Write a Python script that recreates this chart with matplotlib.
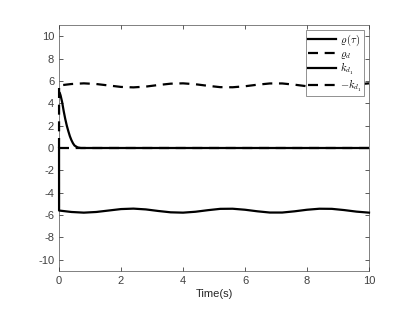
import numpy as np
import matplotlib
matplotlib.use("Agg")
import matplotlib.pyplot as plt

plt.rcParams['font.family'] = ['Liberation Sans', 'DejaVu Sans']
plt.rcParams['mathtext.fontset'] = 'cm'
plt.rcParams['axes.unicode_minus'] = False

# rho(tau): fast decay from ~5 to 0
t_rho = [0, 0.02, 0.05, 0.1, 0.15, 0.2, 0.25, 0.3, 0.35, 0.4, 0.45, 0.5, 0.6, 0.7, 10]
rho = [4.9, 4.95, 4.7, 4.1, 3.3, 2.6, 2.0, 1.5, 1.05, 0.7, 0.42, 0.22, 0.05, 0.0, 0.0]

# rho_d
t_rhod = [0, 10]
rhod = [0, 0]

# k_d1 (starts at 0, jumps to about -5.6 and oscillates)
t_kd = [0, 0.001, 0.4, 0.8, 1.2, 1.6, 2.0, 2.4, 2.8, 3.2, 3.6, 4.0, 4.4, 4.8,
        5.2, 5.6, 6.0, 6.4, 6.8, 7.2, 7.6, 8.0, 8.4, 8.8, 9.2, 9.6, 10.0]
kd = [0, -5.59, -5.72, -5.78, -5.72, -5.59, -5.46, -5.42, -5.49, -5.63, -5.75,
      -5.78, -5.70, -5.56, -5.44, -5.43, -5.52, -5.66, -5.77, -5.77, -5.66,
      -5.52, -5.43, -5.44, -5.55, -5.69, -5.78]
neg_kd = [-v for v in kd]

fig = plt.figure(figsize=(4.1, 3.2), dpi=100)
ax = fig.add_axes([0.144, 0.153, 0.756, 0.769])

lw = 1.6
dash = (0, (4.5, 3))
ax.plot(t_rho, rho, color='k', lw=lw, label=r'$\varrho\,(\tau)$', zorder=4)
ax.plot(t_rhod, rhod, color='k', lw=lw, ls=dash, label=r'$\varrho_d$', zorder=3)
ax.plot(t_kd, kd, color='k', lw=lw, label=r'$k_{d_1}$', zorder=4, clip_on=False)
ax.plot(t_kd, neg_kd, color='k', lw=lw, ls=dash, label=r'$-k_{d_1}$', zorder=4, clip_on=False)

ax.set_xlim(0, 10)
ax.set_ylim(-11, 11)
ax.set_xticks(np.arange(0, 11, 2))
ax.set_yticks(np.arange(-10, 11, 2))
ax.tick_params(direction='in', top=True, right=True, labelsize=8,
               colors='#404040', length=3, width=0.6)
for s in ax.spines.values():
    s.set_color('#808080')
    s.set_linewidth(0.7)
    s.set_zorder(1)
ax.set_xlabel('Time(s)', fontsize=8, color='#262626', labelpad=2)

leg = ax.legend(loc='upper right', fontsize=7.5, handlelength=2.6,
                fancybox=False, framealpha=1, borderaxespad=0.5,
                labelspacing=0.05, handletextpad=0.4, borderpad=0.25)
leg.get_frame().set_edgecolor('#808080')
leg.get_frame().set_linewidth(0.6)

fig.savefig('out.png', dpi=100)
